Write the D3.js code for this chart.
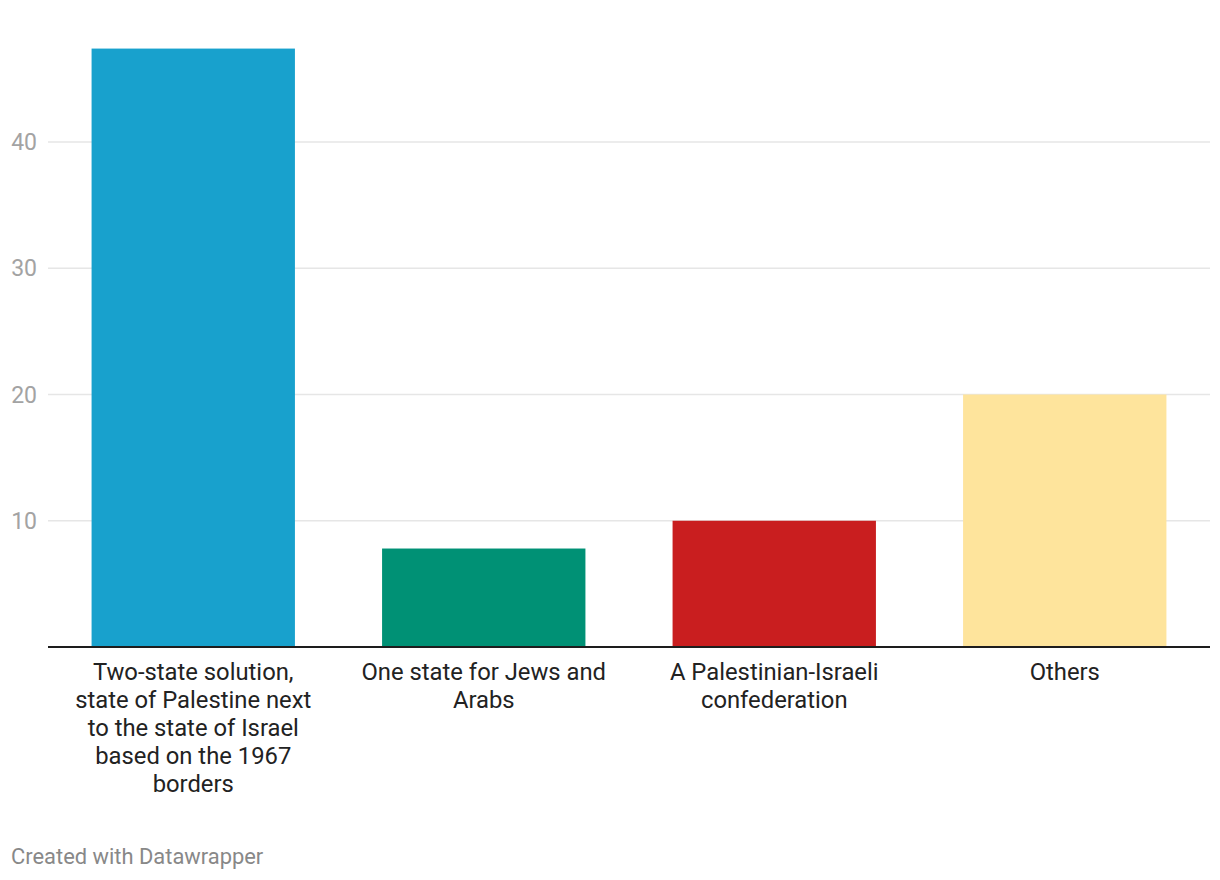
<!DOCTYPE html>
<html><head><meta charset="utf-8">
<script src="https://cdn.jsdelivr.net/npm/d3@7"></script>
<style>body{margin:0;background:#fff;font-family:Roboto,sans-serif;}</style>
</head><body><svg id="c" width="1220" height="880"></svg>
<script>
const categories = [
  "Two-state solution, state of Palestine next to the state of Israel based on the 1967 borders",
  "One state for Jews and Arabs",
  "A Palestinian-Israeli confederation",
  "Others"
];
const labelLines = [
  ["Two-state solution,", "state of Palestine next", "to the state of Israel", "based on the 1967", "borders"],
  ["One state for Jews and", "Arabs"],
  ["A Palestinian-Israeli", "confederation"],
  ["Others"]
];
const values = [47.4, 7.8, 10.0, 20.0];
const colors = ["#18a1cd", "#009175", "#c91e1f", "#fee49c"];
const yTicks = [10, 20, 30, 40];

const svg = d3.select("#c");
const x = d3.scaleBand().domain(categories).range([48, 1210]).paddingInner(0.3).paddingOuter(0.15);
const y = d3.scaleLinear().domain([0, 40]).range([647, 142]);

// gridlines
svg.append("g").selectAll("line").data(yTicks).join("line")
  .attr("x1", 48).attr("x2", 1210)
  .attr("y1", d => y(d)).attr("y2", d => y(d))
  .attr("stroke", "#e6e6e6").attr("stroke-width", 1.5);
// tick labels
svg.append("g").selectAll("text").data(yTicks).join("text")
  .attr("x", 37).attr("y", d => y(d)).attr("dy", "0.35em")
  .attr("text-anchor", "end").attr("font-size", 23).attr("fill", "#a3a3a3")
  .text(d => d);
// bars
svg.append("g").selectAll("rect").data(values).join("rect")
  .attr("x", (d, i) => x(categories[i])).attr("width", x.bandwidth())
  .attr("y", d => y(d)).attr("height", d => y(0) - y(d))
  .attr("fill", (d, i) => colors[i]);
// baseline
svg.append("line").attr("x1", 48).attr("x2", 1210).attr("y1", y(0)).attr("y2", y(0))
  .attr("stroke", "#1d1d1d").attr("stroke-width", 2);
// category labels
const lg = svg.append("g").selectAll("text").data(categories).join("text")
  .attr("text-anchor", "middle").attr("font-size", 23.8).attr("fill", "#222");
lg.each(function(d, i) {
  const t = d3.select(this);
  labelLines[i].forEach((ln, j) => {
    t.append("tspan").attr("x", x(d) + x.bandwidth() / 2).attr("y", 680 + j * 28).text(ln);
  });
});
// footer
svg.append("text").attr("x", 11).attr("y", 864).attr("font-size", 21.9).attr("fill", "#888")
  .text("Created with Datawrapper");
</script></body></html>
